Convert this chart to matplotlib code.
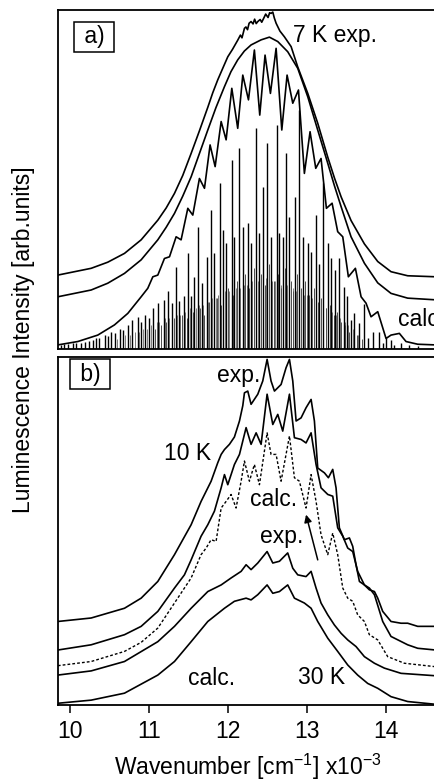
import matplotlib.pyplot as plt

plt.rcParams['font.family'] = ['Liberation Sans', 'DejaVu Sans']
plt.rcParams['mathtext.fontset'] = 'custom'
plt.rcParams['mathtext.rm'] = 'Liberation Sans'

# ---- panel a) 7 K ----
exp7_x = [9.848, 10.270, 10.480, 10.692, 10.903, 11.114, 11.220, 11.325, 11.430, 11.536,
          11.640, 11.747, 11.810, 11.873, 11.940, 12.000, 12.060, 12.126, 12.160, 12.180,
          12.211, 12.230, 12.250, 12.270, 12.295, 12.320, 12.340, 12.360, 12.380, 12.410,
          12.430, 12.464, 12.480, 12.510, 12.530, 12.548, 12.570, 12.590, 12.612, 12.660,
          12.717, 12.802, 12.886, 13.013, 13.139, 13.266, 13.350, 13.435, 13.561, 13.730,
          13.899, 14.067, 14.278, 14.633]
exp7_y = [21.8, 23.8, 25.6, 28.2, 32.2, 38.0, 41.6, 45.9, 51.2, 57.7,
          64.3, 71.3, 75.6, 79.4, 83.0, 86.2, 88.4, 91.1, 92.6, 91.8,
          94.6, 95.0, 94.2, 96.1, 96.6, 95.9, 97.3, 96.0, 96.6, 97.2,
          96.4, 98.0, 98.8, 97.8, 99.2, 99.0, 99.4, 97.6, 96.1, 93.8,
          92.1, 89.2, 83.2, 75.4, 66.6, 56.6, 50.5, 44.9, 37.9, 31.0,
          25.8, 22.8, 21.6, 21.3]

smooth7_x = [9.848, 10.270, 10.480, 10.692, 10.903, 11.114, 11.220, 11.325, 11.430, 11.536,
             11.640, 11.747, 11.850, 11.958, 12.040, 12.126, 12.210, 12.295, 12.422, 12.527,
             12.633, 12.759, 12.886, 13.013, 13.139, 13.266, 13.350, 13.435, 13.561, 13.730,
             13.899, 14.067, 14.278, 14.633]
smooth7_y = [15.4, 17.4, 19.4, 22.3, 26.3, 32.2, 35.9, 40.0, 45.1, 50.8,
             57.6, 64.6, 71.2, 77.4, 81.8, 85.3, 87.9, 89.7, 91.2, 92.0,
             90.7, 87.7, 82.8, 74.4, 64.6, 54.8, 48.2, 42.0, 33.1, 25.3,
             19.5, 16.4, 15.0, 14.5]

ripple7_x = [9.848, 10.101, 10.354, 10.565, 10.734, 10.903, 10.987, 11.051, 11.114, 11.198,
             11.262, 11.346, 11.409, 11.494, 11.557, 11.641, 11.705, 11.776, 11.840, 11.916,
             11.979, 12.051, 12.126, 12.190, 12.262, 12.337, 12.405, 12.472, 12.540, 12.612,
             12.684, 12.751, 12.823, 12.895, 12.970, 13.042, 13.114, 13.181, 13.249, 13.321,
             13.392, 13.456, 13.527, 13.616, 13.688, 13.751, 13.814, 13.899, 14.004, 14.067,
             14.173, 14.257, 14.405, 14.633]
ripple7_y = [1.2, 2.2, 4.1, 7.1, 10.5, 15.4, 17.9, 21.3, 21.8, 26.7,
             27.2, 33.1, 32.2, 41.5, 39.5, 50.3, 47.4, 60.2, 53.8, 67.1,
             61.7, 76.9, 65.1, 80.8, 73.5, 88.2, 69.0, 86.7, 75.4, 88.7,
             64.6, 80.8, 72.5, 76.4, 51.8, 64.1, 53.3, 56.2, 41.5, 43.0,
             34.6, 33.1, 21.3, 23.8, 15.4, 13.5, 9.5, 11.0, 3.1, 4.1,
             4.6, 2.2, 1.4, 1.2]

lines7_x = [9.890, 9.932, 9.975, 10.038, 10.080, 10.143, 10.186, 10.249, 10.291, 10.333,
            10.375, 10.439, 10.481, 10.523, 10.574, 10.629, 10.671, 10.734, 10.785, 10.861,
            10.903, 10.953, 11.008, 11.051, 11.114, 11.190, 11.240, 11.291, 11.346, 11.388,
            11.443, 11.502, 11.536, 11.578, 11.620, 11.671, 11.734, 11.789, 11.831, 11.903,
            11.937, 11.979, 12.051, 12.084, 12.148, 12.190, 12.253, 12.295, 12.359, 12.401,
            12.451, 12.498, 12.548, 12.620, 12.654, 12.705, 12.738, 12.781, 12.852, 12.907,
            12.949, 13.013, 13.055, 13.118, 13.160, 13.207, 13.266, 13.308, 13.359, 13.405,
            13.468, 13.510, 13.561, 13.595, 13.667, 13.730, 13.781, 13.835, 13.911, 13.962,
            14.004, 14.067, 14.110, 14.194, 14.300, 14.405]
lines7_h = [1.2, 1.4, 1.4, 1.7, 1.7, 1.8, 2.2, 2.5, 2.7, 3.1,
            3.1, 4.1, 3.8, 5.1, 4.6, 6.0, 5.6, 7.1, 8.6, 9.5,
            8.1, 10.0, 9.1, 12.1, 13.5, 14.5, 17.0, 13.5, 24.3, 14.1,
            15.6, 28.2, 15.6, 21.2, 36.1, 19.4, 27.0, 41.0, 28.2, 48.9,
            35.1, 31.2, 55.8, 33.1, 59.2, 36.1, 37.1, 31.2, 65.1, 34.1,
            47.9, 60.7, 33.1, 66.1, 34.1, 33.1, 57.7, 39.0, 44.9, 70.5,
            33.1, 31.2, 28.7, 39.5, 25.2, 48.9, 31.2, 26.7, 23.3, 26.7,
            18.4, 15.5, 8.5, 10.5, 7.6, 13.3, 3.1, 5.1, 5.1, 1.7,
            3.1, 2.6, 1.2, 1.7, 1.2, 0.9]

minor7_x = [11.08, 11.16, 11.22, 11.32, 11.42, 11.48, 11.56, 11.65, 11.70, 11.76,
            11.86, 11.92, 12.00, 12.07, 12.12, 12.22, 12.27, 12.33, 12.42, 12.47,
            12.52, 12.58, 12.64, 12.68, 12.72, 12.80, 12.83, 12.88, 12.93, 12.98,
            13.03, 13.09, 13.14, 13.18, 13.24, 13.29, 13.34, 13.38, 13.44, 13.49,
            13.54, 13.63, 13.70]
minor7_h = [6, 7, 8, 9, 10, 9, 11, 12, 10, 14,
            15, 13, 18, 16, 20, 22, 18, 24, 22, 19,
            25, 20, 22, 18, 24, 20, 17, 22, 18, 20,
            16, 18, 14, 15, 12, 13, 10, 11, 8, 7,
            5, 4, 3]

comb7_x = [10.60, 10.70, 10.76, 10.82, 10.88, 10.93, 10.98, 11.03, 11.10, 11.13,
           11.20, 11.26, 11.36, 11.40, 11.46, 11.52, 11.60, 11.64, 11.69, 11.75,
           11.80, 11.85, 11.88, 11.96, 12.02, 12.10, 12.16, 12.20, 12.24, 12.31,
           12.38, 12.44, 12.49, 12.56, 12.60, 12.67, 12.75, 12.77, 12.82, 12.87,
           12.96, 13.00, 13.07, 13.12, 13.20, 13.25, 13.32, 13.37, 13.42, 13.48,
           13.52, 13.58, 13.65]
comb7_h = [3, 4, 4, 5, 5, 6, 6, 7, 8, 8,
           9, 9, 10, 10, 11, 12, 12, 13, 13, 14,
           15, 15, 16, 17, 17, 18, 18, 19, 19, 20,
           20, 20, 21, 20, 20, 19, 19, 18, 18, 17,
           16, 16, 15, 14, 13, 12, 11, 10, 9, 8,
           7, 6, 4]

# ---- panel b) 10 K and 30 K ----
exp10_x = [9.848, 10.270, 10.692, 10.903, 11.114, 11.325, 11.536, 11.662, 11.789, 11.873,
           11.916, 11.958, 12.021, 12.084, 12.148, 12.190, 12.211, 12.253, 12.295, 12.380,
           12.443, 12.498, 12.548, 12.591, 12.675, 12.738, 12.781, 12.823, 12.865, 12.928,
           12.991, 13.055, 13.097, 13.139, 13.224, 13.274, 13.329, 13.371, 13.413, 13.477,
           13.540, 13.582, 13.624, 13.667, 13.730, 13.793, 13.857, 13.899, 13.962, 14.067,
           14.194, 14.278, 14.405, 14.633]
exp10_y = [24.0, 25.0, 27.8, 30.7, 35.5, 43.2, 51.8, 58.5, 64.3, 69.6,
           72.0, 73.4, 74.9, 77.0, 81.6, 86.0, 89.7, 90.2, 86.4, 89.3,
           93.1, 99.3, 93.1, 90.2, 92.1, 96.9, 99.3, 93.1, 81.6, 82.5,
           85.4, 87.8, 81.6, 68.1, 66.7, 65.3, 67.7, 62.4, 50.9, 47.5,
           48.0, 45.6, 40.3, 35.5, 34.5, 33.1, 32.6, 30.7, 26.9, 24.0,
           23.5, 23.5, 22.6, 22.6]

mid10_x = [9.848, 10.270, 10.692, 10.903, 11.114, 11.325, 11.451, 11.536, 11.662, 11.747,
           11.831, 11.916, 11.958, 12.000, 12.084, 12.148, 12.232, 12.295, 12.359, 12.422,
           12.498, 12.570, 12.633, 12.696, 12.781, 12.844, 12.928, 12.991, 13.055, 13.118,
           13.181, 13.266, 13.329, 13.392, 13.456, 13.519, 13.582, 13.645, 13.730, 13.793,
           13.857, 13.962, 14.067, 14.278, 14.405, 14.633]
mid10_y = [15.8, 17.3, 20.2, 22.6, 26.9, 33.6, 37.4, 41.7, 48.5, 51.8,
           55.7, 62.4, 66.2, 63.3, 69.1, 72.0, 79.7, 74.9, 78.2, 74.9,
           89.3, 80.6, 83.5, 78.7, 89.3, 76.8, 76.3, 75.3, 78.2, 69.1,
           62.4, 60.5, 60.0, 50.9, 48.5, 45.1, 44.1, 38.4, 34.5, 33.6,
           31.7, 24.0, 19.7, 17.3, 16.3, 15.8]

calc10_x = [9.848, 10.270, 10.692, 10.903, 11.114, 11.325, 11.451, 11.536, 11.662, 11.726,
            11.789, 11.852, 11.916, 11.979, 12.042, 12.105, 12.169, 12.211, 12.274, 12.337,
            12.401, 12.498, 12.548, 12.612, 12.675, 12.781, 12.844, 12.907, 12.991, 13.055,
            13.118, 13.181, 13.266, 13.329, 13.392, 13.456, 13.519, 13.582, 13.645, 13.730,
            13.793, 13.899, 14.025, 14.236, 14.633]
calc10_y = [11.3, 12.5, 15.4, 18.0, 22.1, 29.3, 33.6, 36.5, 43.2, 45.1,
            47.5, 47.0, 56.6, 58.5, 60.5, 56.6, 64.3, 70.1, 64.3, 69.1,
            63.3, 78.2, 72.0, 72.0, 64.3, 77.3, 65.3, 64.3, 56.6, 66.2,
            58.5, 48.9, 43.2, 49.4, 43.2, 33.6, 30.7, 29.8, 25.9, 24.0,
            20.2, 18.7, 13.9, 12.0, 11.0]

exp30_x = [9.848, 10.270, 10.692, 11.114, 11.325, 11.536, 11.747, 11.916, 12.042, 12.169,
           12.232, 12.295, 12.380, 12.498, 12.570, 12.654, 12.759, 12.823, 12.886, 12.991,
           13.055, 13.118, 13.181, 13.266, 13.350, 13.435, 13.519, 13.624, 13.730, 13.857,
           13.983, 14.194, 14.633]
exp30_y = [8.6, 9.8, 12.5, 18.2, 22.6, 27.8, 32.6, 34.5, 36.5, 38.4,
           40.3, 38.9, 40.8, 44.1, 40.8, 41.3, 43.7, 39.3, 37.4, 36.9,
           38.4, 33.6, 29.3, 25.9, 23.0, 20.6, 18.7, 16.8, 13.9, 12.0,
           10.6, 9.1, 8.4]

calc30_x = [9.848, 10.270, 10.692, 11.114, 11.325, 11.536, 11.747, 11.958, 12.084, 12.232,
            12.295, 12.380, 12.498, 12.570, 12.654, 12.759, 12.844, 12.970, 13.055, 13.139,
            13.266, 13.392, 13.519, 13.645, 13.772, 13.899, 14.067, 14.278, 14.633]
calc30_y = [0.5, 1.4, 3.4, 8.6, 12.5, 18.2, 24.0, 27.8, 29.8, 30.7,
            30.2, 31.7, 34.5, 32.1, 32.6, 34.5, 30.7, 29.3, 27.8, 24.0,
            19.2, 15.4, 11.5, 8.6, 6.2, 4.8, 2.4, 1.0, 0.2]

x_ticks = [10, 11, 12, 13, 14]

FS = 16.5
LW = 1.2


def luminescence_plot():

    fig = plt.figure(figsize=(4.35, 7.83), dpi=100)
    ax_a = fig.add_axes([0.1333, 0.5543, 0.8805, 0.4329])
    ax_b = fig.add_axes([0.1333, 0.0996, 0.8805, 0.4445])

    box = dict(boxstyle='square,pad=0.15', fc='white', ec='k', lw=1.1)

    for ax in (ax_a, ax_b):
        ax.set_xlim(9.85, 14.70)
        ax.set_ylim(0, 100)
        ax.set_yticks([])
        ax.spines['right'].set_visible(False)
        for side in ('left', 'top', 'bottom'):
            ax.spines[side].set_linewidth(1.3)

    # a)
    ax_a.set_xticks([])
    ax_a.vlines(comb7_x, 0, comb7_h, colors='0.4', lw=0.6)
    ax_a.vlines(minor7_x, 0, minor7_h, colors='0.3', lw=0.7)
    ax_a.vlines(lines7_x, 0, lines7_h, colors='k', lw=1.0)
    ax_a.plot(ripple7_x, ripple7_y, color='k', lw=LW, solid_joinstyle='round')
    ax_a.plot(smooth7_x, smooth7_y, color='k', lw=LW)
    ax_a.plot(exp7_x, exp7_y, color='k', lw=LW)
    ax_a.text(10.31, 92.1, ' a) ', fontsize=FS, ha='center', va='center', bbox=box)
    ax_a.text(12.82, 92.6, '7 K exp.', fontsize=FS, ha='left', va='center')
    ax_a.text(14.15, 8.6, 'calc.', fontsize=FS, ha='left', va='center')

    # b)
    ax_b.plot(exp10_x, exp10_y, color='k', lw=LW)
    ax_b.plot(mid10_x, mid10_y, color='k', lw=LW)
    ax_b.plot(calc10_x, calc10_y, color='k', lw=1.0, ls=(0, (2, 1.5)))
    ax_b.plot(exp30_x, exp30_y, color='k', lw=LW)
    ax_b.plot(calc30_x, calc30_y, color='k', lw=LW)
    ax_b.set_xticks(x_ticks)
    ax_b.set_xticklabels([str(t) for t in x_ticks])
    ax_b.tick_params(axis='x', direction='out', length=6, width=1.1,
                     labelsize=FS, pad=5)
    ax_b.text(10.257, 95.0, ' b) ', fontsize=FS, ha='center', va='center', bbox=box)
    ax_b.text(12.135, 94.8, 'exp.', fontsize=FS, ha='center', va='center')
    ax_b.text(11.494, 72.2, '10 K', fontsize=FS, ha='center', va='center')
    ax_b.text(12.586, 59.0, 'calc.', fontsize=FS, ha='center', va='center')
    ax_b.text(12.683, 48.5, 'exp.', fontsize=FS, ha='center', va='center')
    ax_b.text(11.797, 7.7, 'calc.', fontsize=FS, ha='center', va='center')
    ax_b.text(13.190, 7.9, '30 K', fontsize=FS, ha='center', va='center')
    ax_b.annotate('', xy=(12.991, 54.7), xytext=(13.139, 41.7),
                  arrowprops=dict(arrowstyle='-|>', color='k', lw=1.1,
                                  mutation_scale=11, shrinkA=0, shrinkB=0))

    fig.text(0.055, 0.566, 'Luminescence Intensity [arb.units]', fontsize=FS,
             rotation=90, ha='center', va='center')
    fig.text(0.569, 0.021, r'Wavenumber [cm$^{\mathregular{-1}}$] x10$^{\mathregular{-3}}$',
             fontsize=FS, ha='center', va='center')

    fig.savefig('out.png', dpi=100)


if __name__ == "__main__":

    luminescence_plot()
